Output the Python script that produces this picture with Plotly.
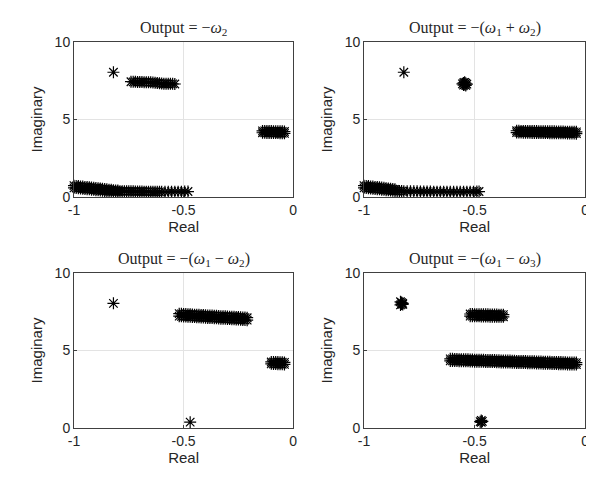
import plotly.graph_objects as go

# ---------------- text ----------------
titles = ["Output = \u2212<i>\u03c9</i><sub>2</sub>",
          "Output = \u2212(<i>\u03c9</i><sub>1</sub> + <i>\u03c9</i><sub>2</sub>)",
          "Output = \u2212(<i>\u03c9</i><sub>1</sub> \u2212 <i>\u03c9</i><sub>2</sub>)",
          "Output = \u2212(<i>\u03c9</i><sub>1</sub> \u2212 <i>\u03c9</i><sub>3</sub>)"]
x_ticks = [-1, -0.5, 0]
x_ticktext = ["-1", "-0.5", "0"]
y_ticks = [0, 5, 10]
y_ticktext = ["0", "5", "10"]

# ---------------- data: real / imaginary parts ----------------
# Panel 1: Output = -w2
p1_star_re = [-0.82]
p1_star_im = [8.05]
p1_top_re = [-0.74, -0.73, -0.72, -0.71, -0.70, -0.69, -0.68, -0.67, -0.66, -0.65, -0.64,
             -0.63, -0.62, -0.61, -0.60, -0.59, -0.58, -0.57, -0.56, -0.55, -0.54]
p1_top_im = [7.44, 7.43, 7.43, 7.42, 7.42, 7.42, 7.41, 7.41, 7.40, 7.40, 7.39,
             7.38, 7.36, 7.34, 7.32, 7.31, 7.31, 7.30, 7.30, 7.30, 7.29]
p1_mid_re = [-0.14, -0.13, -0.12, -0.11, -0.10, -0.09, -0.08, -0.07, -0.06, -0.05, -0.04]
p1_mid_im_a = [4.26, 4.26, 4.25, 4.25, 4.25, 4.24, 4.24, 4.24, 4.23, 4.23, 4.22]
p1_mid_im_b = [4.14, 4.14, 4.13, 4.13, 4.13, 4.12, 4.12, 4.12, 4.11, 4.11, 4.10]
p1_low_re = [-1.00, -0.99, -0.98, -0.97, -0.96, -0.95, -0.94, -0.93, -0.92, -0.91, -0.90,
             -0.89, -0.88, -0.87, -0.86, -0.85, -0.84, -0.83, -0.82, -0.81, -0.80]
p1_low_im_a = [0.72, 0.70, 0.69, 0.67, 0.66, 0.64, 0.63, 0.61, 0.60, 0.58, 0.57,
               0.55, 0.53, 0.52, 0.50, 0.48, 0.46, 0.45, 0.43, 0.41, 0.40]
p1_low_im_b = [0.58, 0.57, 0.55, 0.54, 0.52, 0.51, 0.49, 0.48, 0.46, 0.45, 0.43,
               0.42, 0.40, 0.39, 0.38, 0.37, 0.36, 0.35, 0.35, 0.34, 0.34]
p1_tail_re = [-0.79, -0.78, -0.77, -0.76, -0.75, -0.74, -0.73, -0.72, -0.71, -0.70, -0.69,
              -0.68, -0.67, -0.66, -0.65, -0.64, -0.63, -0.62, -0.61, -0.60, -0.585,
              -0.57, -0.555, -0.54, -0.525, -0.51, -0.495, -0.48]
p1_tail_im = [0.36, 0.36, 0.36, 0.35, 0.35, 0.35, 0.35, 0.34, 0.34, 0.34, 0.34,
              0.33, 0.33, 0.33, 0.33, 0.32, 0.32, 0.32, 0.32, 0.32, 0.32,
              0.32, 0.33, 0.33, 0.33, 0.33, 0.34, 0.34]

# Panel 2: Output = -(w1 + w2)
p2_star_re = [-0.82]
p2_star_im = [8.05]
p2_top_re = [-0.555, -0.55, -0.545, -0.54, -0.535, -0.55, -0.545, -0.54]
p2_top_im = [7.30, 7.36, 7.40, 7.34, 7.28, 7.22, 7.26, 7.20]
p2_mid_re = [-0.31, -0.30, -0.29, -0.28, -0.27, -0.26, -0.25, -0.24, -0.23, -0.22,
             -0.21, -0.20, -0.19, -0.18, -0.17, -0.16, -0.15, -0.14, -0.13, -0.12,
             -0.11, -0.10, -0.09, -0.08, -0.07, -0.06, -0.05, -0.04]
p2_mid_im_a = [4.27, 4.27, 4.26, 4.26, 4.26, 4.26, 4.25, 4.25, 4.25, 4.25,
               4.24, 4.24, 4.24, 4.24, 4.23, 4.23, 4.23, 4.23, 4.22, 4.22,
               4.22, 4.22, 4.21, 4.21, 4.21, 4.21, 4.20, 4.20]
p2_mid_im_b = [4.15, 4.15, 4.15, 4.14, 4.14, 4.14, 4.14, 4.13, 4.13, 4.13,
               4.13, 4.12, 4.12, 4.12, 4.12, 4.11, 4.11, 4.11, 4.11, 4.10,
               4.10, 4.10, 4.10, 4.09, 4.09, 4.09, 4.09, 4.08]
p2_low_re = [-1.00, -0.99, -0.98, -0.97, -0.96, -0.95, -0.94, -0.93, -0.92, -0.91,
             -0.90, -0.89, -0.88, -0.87, -0.86]
p2_low_im_a = [0.72, 0.70, 0.69, 0.67, 0.66, 0.64, 0.63, 0.61, 0.60, 0.58,
               0.56, 0.54, 0.52, 0.50, 0.48]
p2_low_im_b = [0.58, 0.57, 0.55, 0.54, 0.52, 0.51, 0.49, 0.48, 0.46, 0.45,
               0.43, 0.42, 0.40, 0.39, 0.38]
p2_tail_re = [-0.85, -0.84, -0.83, -0.82, -0.805, -0.79, -0.775, -0.76, -0.745, -0.73,
              -0.715, -0.70, -0.685, -0.67, -0.655, -0.64, -0.625, -0.61, -0.595, -0.58,
              -0.565, -0.55, -0.535, -0.52, -0.505, -0.49, -0.48]
p2_tail_im = [0.38, 0.37, 0.37, 0.36, 0.36, 0.35, 0.35, 0.35, 0.34, 0.34,
              0.34, 0.34, 0.33, 0.33, 0.33, 0.33, 0.32, 0.32, 0.32, 0.32,
              0.32, 0.32, 0.33, 0.33, 0.33, 0.34, 0.34]

# Panel 3: Output = -(w1 - w2)
p3_star_re = [-0.82, -0.47]
p3_star_im = [8.05, 0.37]
p3_top_re = [-0.52, -0.51, -0.50, -0.49, -0.48, -0.47, -0.46, -0.45, -0.44, -0.43,
             -0.42, -0.41, -0.40, -0.39, -0.38, -0.37, -0.36, -0.35, -0.34, -0.33,
             -0.32, -0.31, -0.30, -0.29, -0.28, -0.27, -0.26, -0.25, -0.24, -0.23,
             -0.22, -0.21]
p3_top_im_a = [7.38, 7.37, 7.36, 7.36, 7.35, 7.34, 7.33, 7.32, 7.31, 7.31,
               7.30, 7.29, 7.28, 7.27, 7.27, 7.26, 7.25, 7.24, 7.23, 7.22,
               7.22, 7.21, 7.20, 7.19, 7.18, 7.18, 7.17, 7.16, 7.15, 7.14,
               7.13, 7.12]
p3_top_im_b = [7.22, 7.21, 7.20, 7.20, 7.19, 7.18, 7.17, 7.16, 7.15, 7.15,
               7.14, 7.13, 7.12, 7.11, 7.11, 7.10, 7.09, 7.08, 7.07, 7.06,
               7.06, 7.05, 7.04, 7.03, 7.02, 7.02, 7.01, 7.00, 6.99, 6.98,
               6.97, 6.96]
p3_mid_re = [-0.10, -0.09, -0.08, -0.07, -0.06, -0.05, -0.04]
p3_mid_im_a = [4.26, 4.26, 4.25, 4.25, 4.24, 4.24, 4.23]
p3_mid_im_b = [4.14, 4.13, 4.13, 4.12, 4.12, 4.11, 4.10]

# Panel 4: Output = -(w1 - w3)
p4_star_re = [-0.835, -0.83, -0.825, -0.83, -0.835, -0.825, -0.47, -0.47, -0.465, -0.475]
p4_star_im = [8.15, 8.10, 8.05, 8.00, 7.95, 7.98, 0.48, 0.36, 0.42, 0.40]
p4_top_re = [-0.52, -0.51, -0.50, -0.49, -0.48, -0.47, -0.46, -0.45, -0.44, -0.43,
             -0.42, -0.41, -0.40, -0.39, -0.38, -0.37]
p4_top_im_a = [7.36, 7.36, 7.35, 7.35, 7.35, 7.34, 7.34, 7.34, 7.34, 7.33,
               7.33, 7.33, 7.33, 7.32, 7.32, 7.32]
p4_top_im_b = [7.22, 7.22, 7.21, 7.21, 7.21, 7.20, 7.20, 7.20, 7.20, 7.19,
               7.19, 7.19, 7.19, 7.18, 7.18, 7.18]
p4_mid_re = [-0.61, -0.60, -0.59, -0.58, -0.57, -0.56, -0.55, -0.54, -0.53, -0.52,
             -0.51, -0.50, -0.49, -0.48, -0.47, -0.46, -0.45, -0.44, -0.43, -0.42,
             -0.41, -0.40, -0.39, -0.38, -0.37, -0.36, -0.35, -0.34, -0.33, -0.32,
             -0.31, -0.30, -0.29, -0.28, -0.27, -0.26, -0.25, -0.24, -0.23, -0.22,
             -0.21, -0.20, -0.19, -0.18, -0.17, -0.16, -0.15, -0.14, -0.13, -0.12,
             -0.11, -0.10, -0.09, -0.08, -0.07, -0.06, -0.05, -0.04]
p4_mid_im_a = [4.46, 4.46, 4.45, 4.45, 4.44, 4.44, 4.44, 4.43, 4.43, 4.42,
               4.42, 4.41, 4.41, 4.41, 4.40, 4.40, 4.39, 4.39, 4.38, 4.38,
               4.38, 4.37, 4.37, 4.36, 4.36, 4.35, 4.35, 4.35, 4.34, 4.34,
               4.33, 4.33, 4.32, 4.32, 4.32, 4.31, 4.31, 4.30, 4.30, 4.29,
               4.29, 4.29, 4.28, 4.28, 4.27, 4.27, 4.26, 4.26, 4.26, 4.25,
               4.25, 4.24, 4.24, 4.23, 4.23, 4.23, 4.22, 4.22]
p4_mid_im_b = [4.33, 4.33, 4.32, 4.32, 4.31, 4.31, 4.31, 4.30, 4.30, 4.29,
               4.29, 4.28, 4.28, 4.28, 4.27, 4.27, 4.26, 4.26, 4.25, 4.25,
               4.25, 4.24, 4.24, 4.23, 4.23, 4.22, 4.22, 4.22, 4.21, 4.21,
               4.20, 4.20, 4.19, 4.19, 4.19, 4.18, 4.18, 4.17, 4.17, 4.16,
               4.16, 4.16, 4.15, 4.15, 4.14, 4.14, 4.13, 4.13, 4.13, 4.12,
               4.12, 4.11, 4.11, 4.10, 4.10, 4.10, 4.09, 4.09]

panels = [
    [(p1_star_re, p1_star_im), (p1_top_re, p1_top_im),
     (p1_mid_re, p1_mid_im_a), (p1_mid_re, p1_mid_im_b),
     (p1_low_re, p1_low_im_a), (p1_low_re, p1_low_im_b), (p1_tail_re, p1_tail_im)],
    [(p2_star_re, p2_star_im), (p2_top_re, p2_top_im),
     (p2_mid_re, p2_mid_im_a), (p2_mid_re, p2_mid_im_b),
     (p2_low_re, p2_low_im_a), (p2_low_re, p2_low_im_b), (p2_tail_re, p2_tail_im)],
    [(p3_star_re, p3_star_im), (p3_top_re, p3_top_im_a), (p3_top_re, p3_top_im_b),
     (p3_mid_re, p3_mid_im_a), (p3_mid_re, p3_mid_im_b)],
    [(p4_star_re, p4_star_im), (p4_top_re, p4_top_im_a), (p4_top_re, p4_top_im_b),
     (p4_mid_re, p4_mid_im_a), (p4_mid_re, p4_mid_im_b)],
]

# ---------------- layout ----------------
W, H = 594, 482
boxes = [(61, 284, 27, 187), (356, 581, 27, 187),
         (61, 284, 266, 426), (356, 581, 266, 426)]

fig = go.Figure()
tick_font = dict(family="Liberation Sans, Arial, sans-serif", size=14, color="#262626")
lab_font = dict(family="Liberation Sans, Arial, sans-serif", size=15, color="#262626")

for i, (clusters, (l, r, t, b)) in enumerate(zip(panels, boxes)):
    n = i + 1
    xa = "x" if n == 1 else f"x{n}"
    ya = "y" if n == 1 else f"y{n}"
    re_all, im_all = [], []
    for re, im in clusters:
        re_all += list(re)
        im_all += list(im)
    fig.add_trace(go.Scatter(
        x=re_all, y=im_all, mode="markers", xaxis=xa, yaxis=ya, cliponaxis=False,
        marker=dict(symbol="asterisk-open", size=10, color="black",
                    line=dict(color="black", width=1.2)),
        showlegend=False, hoverinfo="x+y"))
    axis_common = dict(showline=True, mirror=True, linecolor="#404040", linewidth=1,
                       ticks="inside", ticklen=3, tickcolor="#404040",
                       showgrid=True, gridcolor="#e3e3e3", gridwidth=1,
                       zeroline=False, tickfont=tick_font, fixedrange=True)
    fig.layout[f"xaxis{'' if n == 1 else n}"] = dict(
        domain=[l / W, r / W], anchor=ya, range=[-1, 0],
        tickvals=x_ticks, ticktext=x_ticktext,
        title=dict(text="Real", font=lab_font, standoff=4), **axis_common)
    fig.layout[f"yaxis{'' if n == 1 else n}"] = dict(
        domain=[1 - b / H, 1 - t / H], anchor=xa, range=[0, 10],
        tickvals=y_ticks, ticktext=y_ticktext,
        title=dict(text="Imaginary", font=lab_font, standoff=8), **axis_common)
    fig.add_annotation(
        text=titles[i], xref="paper", yref="paper",
        x=(l + r) / 2 / W, y=1 - (t - 2) / H, xanchor="center", yanchor="bottom",
        showarrow=False,
        font=dict(family="Liberation Serif, Times New Roman, serif", size=16, color="#262626"))

fig.update_layout(width=W, height=H, margin=dict(l=0, r=0, t=0, b=0),
                  paper_bgcolor="white", plot_bgcolor="white")

fig.write_html("out.html", config={"displayModeBar": False})
